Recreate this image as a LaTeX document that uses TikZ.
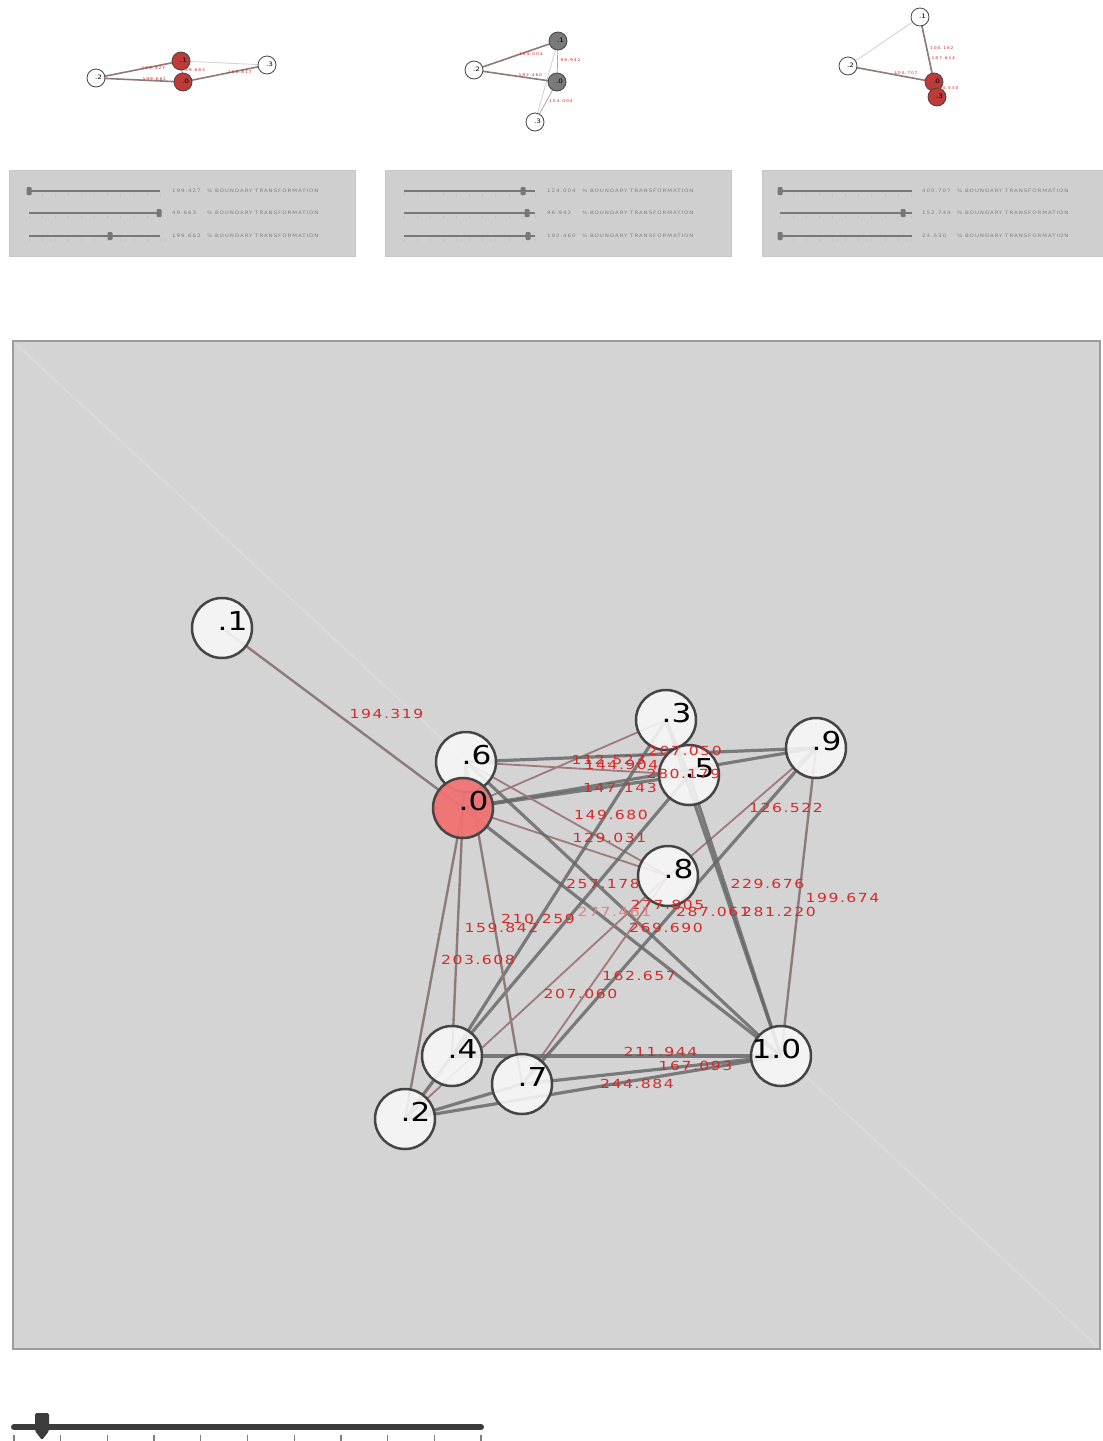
\documentclass[tikz,border=0pt]{standalone}
\usepackage{fontspec}
\setmainfont{DejaVu Sans}
\newfontfamily\lblfont[LetterSpace=12, FakeStretch=1.25]{DejaVu Sans}
\newfontfamily\numfont[FakeStretch=1.2]{DejaVu Sans}
\newfontfamily\tinyfont[LetterSpace=20, FakeStretch=1.2]{DejaVu Sans}
\definecolor{panelgray}{HTML}{D4D4D4}
\definecolor{panelline}{HTML}{9C9C9C}
\definecolor{slidergray}{HTML}{CFCFCF}
\definecolor{nodefill}{HTML}{F8F8F8}
\definecolor{nodeedge}{HTML}{454545}
\definecolor{nodered}{HTML}{F07272}
\definecolor{smallred}{HTML}{C03A3A}
\definecolor{smallgray}{HTML}{7A7A7A}
\definecolor{edgedark}{HTML}{666666}
\definecolor{edgepink}{HTML}{A07A7A}
\definecolor{edgemix}{HTML}{8E7A7A}
\definecolor{lblred}{HTML}{D42A2A}
\definecolor{trackgray}{HTML}{777777}
\definecolor{bartrack}{HTML}{3C3C3C}
\pgfdeclarelayer{back}
\pgfdeclarelayer{edges}
\pgfsetlayers{back,edges,main}
\begin{document}
\begin{tikzpicture}[x=1pt,y=-1pt,
  gnode/.style={circle, minimum size=60pt, inner sep=0pt, draw=nodeedge, line width=2.5pt, fill=nodefill, fill opacity=0.88},
  rnode/.style={gnode, fill=nodered, fill opacity=0.95},
  numtext/.style={font=\numfont\fontsize{26}{26}\selectfont, text=black, inner sep=0pt, anchor=base west, xshift=-4.6pt, yshift=-2pt},
  strongedge/.style={draw=edgedark, line width=3.2pt, draw opacity=0.82},
  weakedge/.style={draw=edgepink, line width=1.8pt},
  mixedge/.style={draw=edgemix, line width=2.4pt},
  elabel/.style={text=lblred, font=\lblfont\fontsize{12.5}{13}\selectfont, anchor=west, inner sep=0pt, xshift=7pt, yshift=4pt},
  snode/.style={circle, minimum size=18pt, inner sep=0pt, draw=nodeedge, line width=0.8pt, fill=white},
  snoder/.style={snode, fill=smallred},
  snodeg/.style={snode, fill=smallgray},
  stext/.style={font=\numfont\fontsize{6}{6}\selectfont, inner sep=0pt, anchor=base west, xshift=-1pt, yshift=-1pt},
  sedge/.style={draw=edgemix, line width=1.6pt},
  sedgelight/.style={draw=black!18, line width=0.8pt},
  slabel/.style={text=lblred, font=\tinyfont\fontsize{3.8}{4}\selectfont, anchor=west, inner sep=0pt, xshift=3pt, yshift=1pt},
  spanel/.style={fill=slidergray, draw=black!22, line width=0.6pt},
  track/.style={draw=trackgray, line width=2.2pt},
  thumb/.style={fill=trackgray, rounded corners=1pt},
  valtext/.style={text=black!50, font=\tinyfont\fontsize{4.6}{5}\selectfont, anchor=west, inner sep=0pt},
]
\useasboundingbox (0,0) rectangle (1103,1441);

% ---------------- backgrounds ----------------
\begin{pgfonlayer}{back}
\fill[white] (0,0) rectangle (1103,1441);
\filldraw[fill=panelgray, draw=panelline, line width=1.5pt] (13,341) rectangle (1100,1349);
\draw[white, opacity=0.14, line width=2pt] (14,342) -- (1099,1348);
% slider panels
\foreach \px in {9, 385, 762}{
  \path[spanel] (\px,170) rectangle (\px+346,256);
}
\end{pgfonlayer}

% slider rows
\foreach \tx/\te/\thx/\vx/\yy/\val in {
  29/160/29/172/191/199.427, 29/160/159/172/213/49.663, 29/160/110/172/236/199.662,
  404/535/523/547/191/124.004, 404/535/527/547/213/96.942, 404/535/528/547/236/192.460,
  780/912/780/922/191/400.707, 780/912/903/922/213/152.744, 780/912/780/922/236/24.530}{
  \draw[track] (\tx,\yy) -- (\te,\yy);
  \foreach \k in {0,...,10}{\draw[black!25, line width=0.5pt] (\tx+\k*13.1,\yy+3) -- (\tx+\k*13.1,\yy+5);}
  \fill[thumb] (\thx-2.5,\yy-4) rectangle (\thx+2.5,\yy+4);
  \node[valtext] at (\vx,\yy) {\val};
  \node[valtext] at (\vx+35,\yy) {\% BOUNDARY TRANSFORMATION};
}

% ---------------- top small graphs ----------------
\node[snode]  (a1) at (96,78) {};
\node[snoder] (a2) at (181,61) {};
\node[snoder] (a3) at (183,82) {};
\node[snode]  (a4) at (267,65) {};
\node[snode]  (b1) at (474,70) {};
\node[snodeg] (b2) at (558,41) {};
\node[snodeg] (b3) at (557,82) {};
\node[snode]  (b4) at (535,122) {};
\node[snode]  (c1) at (920,17) {};
\node[snode]  (c2) at (848,66) {};
\node[snoder] (c3) at (934,82) {};
\node[snoder] (c4) at (937,97) {};
\foreach \n/\t in {a1/.2, a2/.1, a3/.0, a4/.3, b1/.2, b2/.1, b3/.0, b4/.3, c1/.1, c2/.2, c3/.0, c4/.3}{
  \node[stext] at (\n.center) {\t};
}
\begin{pgfonlayer}{edges}
\draw[sedgelight] (a2.center) -- (a4.center);
\draw[sedge] (a1.center) -- (a2.center) coordinate[midway] (sa12);
\draw[sedge] (a1.center) -- (a3.center) coordinate[midway] (sa13);
\draw[sedge] (a3.center) -- (a4.center) coordinate[midway] (sa34);
\draw[sedge, line width=0.8pt] (a2.center) -- (a3.center) coordinate[midway] (sa23);
\draw[sedgelight] (b2.center) -- (b4.center);
\draw[sedge] (b1.center) -- (b2.center) coordinate[midway] (sb12);
\draw[sedge] (b1.center) -- (b3.center) coordinate[midway] (sb13);
\draw[sedge, line width=0.8pt, draw=edgepink!70] (b2.center) -- (b3.center) coordinate[midway] (sb23);
\draw[sedge, line width=0.8pt, draw=edgepink!70] (b3.center) -- (b4.center) coordinate[midway] (sb34);
\draw[sedgelight] (c1.center) -- (c2.center);
\draw[sedge] (c1.center) -- (c3.center) coordinate[midway] (sc13);
\draw[sedge, line width=0.8pt] (c1.center) -- (c4.center) coordinate[midway] (sc14);
\draw[sedge] (c2.center) -- (c3.center) coordinate[midway] (sc23);
\draw[sedge, line width=0.8pt] (c3.center) -- (c4.center) coordinate[midway] (sc34);
\end{pgfonlayer}
\node[slabel] at (sa12) {199.427};
\node[slabel] at (sa13) {199.662};
\node[slabel] at (sa23) {49.663};
\node[slabel] at (sa34) {150.817};
\node[slabel] at (sb12) {124.004};
\node[slabel] at (sb13) {192.460};
\node[slabel] at (sb23) {96.942};
\node[slabel] at (sb34) {104.004};
\node[slabel] at (sc13) {100.162};
\node[slabel, yshift=-2pt] at (sc14) {187.614};
\node[slabel] at (sc23) {400.707};
\node[slabel] at (sc34) {24.530};

% ---------------- main graph nodes ----------------
\node[gnode] (n1)  at (222,628) {};
\node[gnode] (n6)  at (466,762) {};
\node[rnode] (n0)  at (463,808) {};
\node[gnode] (n3)  at (666,720) {};
\node[gnode] (n5)  at (689,775) {};
\node[gnode] (n9)  at (816,748) {};
\node[gnode] (n8)  at (668,876) {};
\node[gnode] (n4)  at (452,1056) {};
\node[gnode] (n7)  at (522,1084) {};
\node[gnode] (n2)  at (405,1119) {};
\node[gnode] (n10) at (781,1056) {};
\foreach \n/\t in {n1/.1, n6/.6, n0/.0, n3/.3, n5/.5, n9/.9, n8/.8, n4/.4, n7/.7, n2/.2}{
  \node[numtext] at (\n.center) {\t};
}
\node[numtext, anchor=base, xshift=0pt] at (n10.center) {1.0};

% ---------------- main graph edges ----------------
\begin{pgfonlayer}{edges}
\draw[mixedge]    (n1.center) -- (n0.center) coordinate[midway] (e10);
\draw[strongedge] (n0.center) -- (n6.center);
\draw[strongedge] (n3.center) -- (n5.center);
\draw[weakedge]   (n0.center) -- (n3.center) coordinate[midway] (e03);
\draw[weakedge]   (n6.center) -- (n5.center) coordinate[midway] (e65);
\draw[strongedge] (n6.center) -- (n9.center) coordinate[midway] (e69);
\draw[strongedge] (n0.center) -- (n9.center) coordinate[midway] (e09);
\draw[strongedge] (n0.center) -- (n5.center) coordinate[midway] (e05);
\draw[weakedge]   (n6.center) -- (n8.center) coordinate[midway] (e68);
\draw[weakedge]   (n0.center) -- (n8.center) coordinate[midway] (e08);
\draw[weakedge]   (n9.center) -- (n8.center) coordinate[midway] (e98);
\draw[strongedge] (n3.center) -- (n4.center) coordinate[midway] (e34);
\draw[strongedge] (n3.center) -- (n10.center) coordinate[midway] (e310);
\draw[mixedge]    (n9.center) -- (n10.center) coordinate[midway] (e910);
\draw[strongedge] (n6.center) -- (n10.center) coordinate[midway] (e610);
\draw[strongedge] (n5.center) -- (n4.center) coordinate[midway] (e54);
\draw[strongedge] (n9.center) -- (n7.center) coordinate[midway] (e97);
\draw[strongedge] (n5.center) -- (n10.center) coordinate[midway] (e510);
\draw[strongedge] (n0.center) -- (n10.center) coordinate[midway] (e010);
\draw[mixedge]    (n6.center) -- (n7.center) coordinate[midway] (e67);
\draw[mixedge]    (n0.center) -- (n4.center) coordinate[midway] (e04);
\draw[mixedge]    (n0.center) -- (n2.center) coordinate[midway] (e02);
\draw[weakedge]   (n8.center) -- (n7.center) coordinate[midway] (e87);
\draw[weakedge]   (n8.center) -- (n2.center) coordinate[midway] (e82);
\draw[strongedge] (n4.center) -- (n10.center) coordinate[midway] (e410);
\draw[strongedge] (n7.center) -- (n10.center) coordinate[midway] (e710);
\draw[strongedge] (n2.center) -- (n10.center) coordinate[midway] (e210);
\draw[strongedge] (n2.center) -- (n4.center);
\draw[strongedge] (n2.center) -- (n7.center);
\end{pgfonlayer}

% ---------------- edge labels ----------------
\node[elabel] at (e10)  {194.319};
\node[elabel] at (e03)  {112.523};
\node[elabel] at (e65)  {144.904};
\node[elabel] at (e69)  {207.050};
\node[elabel] at (e09)  {280.179};
\node[elabel] at (e05)  {147.143};
\node[elabel] at (e68)  {149.680};
\node[elabel] at (e08)  {129.031};
\node[elabel] at (e98)  {126.522};
\node[elabel] at (e34)  {257.178};
\node[elabel] at (e310) {229.676};
\node[elabel] at (e910) {199.674};
\node[elabel] at (e610) {277.805};
\node[elabel, text=lblred!60] at (e54) {277.461};
\node[elabel] at (e97)  {287.061};
\node[elabel] at (e510) {281.220};
\node[elabel] at (e010) {269.690};
\node[elabel] at (e67)  {210.259};
\node[elabel] at (e04)  {159.842};
\node[elabel] at (e02)  {203.608};
\node[elabel] at (e87)  {162.657};
\node[elabel] at (e82)  {207.060};
\node[elabel] at (e410) {211.944};
\node[elabel] at (e710) {167.093};
\node[elabel] at (e210) {244.884};

% ---------------- bottom slider ----------------
\coordinate (bs0) at (14,1427);
\coordinate (bs1) at (481,1427);
\draw[bartrack, line width=6pt, line cap=round] (bs0) -- (bs1);
\foreach \k in {0,...,10}{\draw[black!50, line width=1.3pt] (14+\k*46.7,1435) -- (14+\k*46.7,1441);}
\fill[bartrack, rounded corners=1.5pt] (35,1413) -- (49,1413) -- (49,1431) -- (42,1440) -- (35,1431) -- cycle;
\end{tikzpicture}
\end{document}
